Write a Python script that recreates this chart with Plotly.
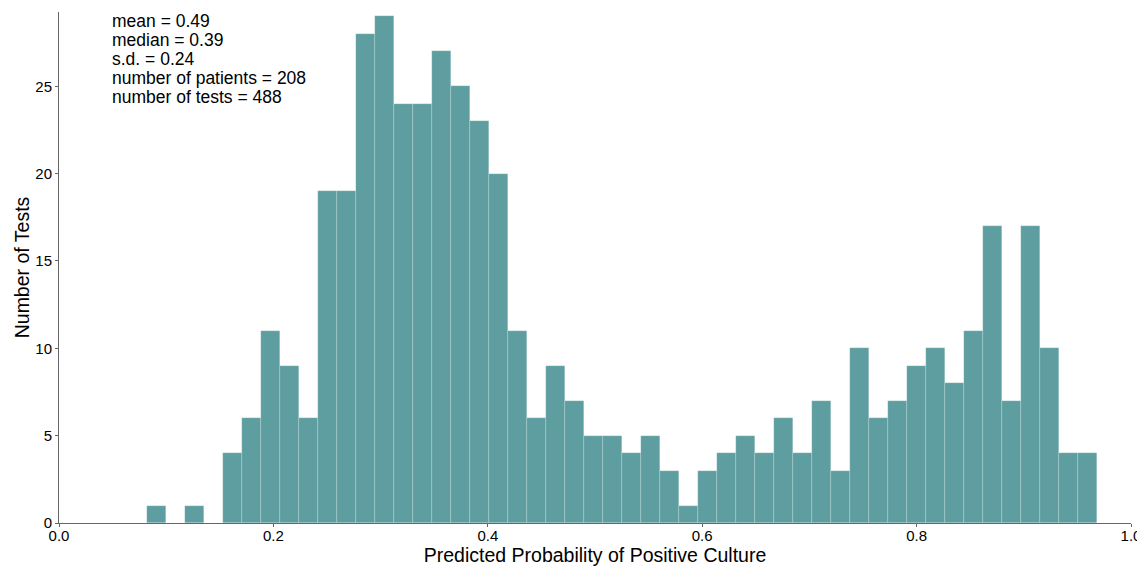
import numpy as np
import plotly.graph_objects as go

# Histogram data (50 equal-width bins between min and max prediction)
bin_start = 0.0825
bin_end = 0.9687
counts = [1, 0, 1, 0, 4, 6, 11, 9, 6, 19,
          19, 28, 29, 24, 24, 27, 25, 23, 20, 11,
          6, 9, 7, 5, 5, 4, 5, 3, 1, 3,
          4, 5, 4, 6, 4, 7, 3, 10, 6, 7,
          9, 10, 8, 11, 17, 7, 17, 10, 4, 4]
x_ticks = [0.0, 0.2, 0.4, 0.6, 0.8, 1.0]
y_ticks = [0, 5, 10, 15, 20, 25]
stats_lines = ["mean = 0.49", "median = 0.39", "s.d. = 0.24",
               "number of patients = 208", "number of tests = 488"]

n = len(counts)
edges = np.linspace(bin_start, bin_end, n + 1)
centers = (edges[:-1] + edges[1:]) / 2
width = edges[1] - edges[0]

fig = go.Figure()
fig.add_trace(go.Bar(
    x=centers, y=counts, width=width,
    marker=dict(color="#5F9EA0", line=dict(color="rgba(255,255,255,0.35)", width=0.5)),
    showlegend=False,
))

font_family = "Liberation Sans, Arial, sans-serif"
# page body adds an 8px margin, so the figure is sized to fit the window
FIG_W, FIG_H = 1137, 559
M_L, M_R, M_T, M_B = 51, 14, 4, 44
H_PLOT = FIG_H - M_T - M_B
annotations = []
for i, line in enumerate(stats_lines):
    annotations.append(dict(
        text=line, xref="paper", yref="paper",
        x=0.048, y=(502 - 19 * i) / H_PLOT,
        xanchor="left", yanchor="middle", align="left",
        showarrow=False, font=dict(size=17.5, family=font_family, color="black"),
    ))

fig.update_layout(
    width=FIG_W, height=FIG_H,
    margin=dict(l=M_L, r=M_R, t=M_T, b=M_B),
    paper_bgcolor="white", plot_bgcolor="white",
    bargap=0,
    font=dict(family=font_family, color="black", size=15),
    xaxis=dict(
        range=[0, 1.0], tickvals=x_ticks, tickformat=".1f",
        showline=True, linecolor="#666", linewidth=1, mirror=False,
        ticks="outside", ticklen=3, tickcolor="#666",
        showgrid=False, zeroline=False, automargin=False,
        tickfont=dict(size=15), ticklabelstandoff=-4,
        title=dict(text="Predicted Probability of Positive Culture", font=dict(size=19.5), standoff=4),
    ),
    yaxis=dict(
        range=[0, 29.25], tickvals=y_ticks,
        showline=True, linecolor="#666", linewidth=1,
        ticks="outside", ticklen=3, tickcolor="#666",
        showgrid=False, zeroline=False, automargin=False,
        tickfont=dict(size=15),
        title=dict(text="Number of Tests", font=dict(size=19.5), standoff=0),
    ),
    annotations=annotations,
)

fig.write_html("out.html")
